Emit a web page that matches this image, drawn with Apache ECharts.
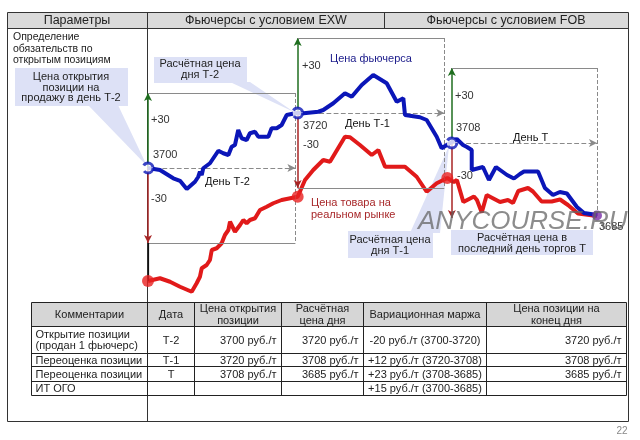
<!DOCTYPE html>
<html><head><meta charset="utf-8">
<script src="https://cdn.jsdelivr.net/npm/echarts/dist/echarts.min.js"></script>
<style>html,body{margin:0;padding:0;background:#fff}#c{width:640px;height:440px}</style>
</head><body><div id="c"></div>
<script>
// ---- data (x = trading days from opening, y = price, руб./т) ----
const futuresT2 = [[0,3700],[0.08,3699.2],[0.169,3695.9],[0.214,3694.9],[0.259,3691.6],[0.314,3694.5],[0.336,3696.5],[0.347,3698.5],[0.359,3697.2],[0.369,3699.9],[0.414,3701.9],[0.47,3706.9],[0.503,3705.9],[0.537,3705.2],[0.559,3708.5],[0.581,3709.2],[0.603,3715.2],[0.626,3711.9],[0.637,3712.5],[0.659,3711.2],[0.681,3713.9],[0.715,3714.5],[0.737,3712.5],[0.804,3712.5],[0.826,3715.9],[0.86,3715.9],[0.893,3717.2],[0.927,3721.2],[0.982,3721.9]];
const futuresT1 = [[1,3722],[1.04,3721.9],[1.138,3722.5],[1.171,3723.2],[1.238,3725.9],[1.316,3729.9],[1.361,3728.5],[1.428,3733.2],[1.505,3737.2],[1.595,3733.9],[1.662,3726.5],[1.706,3727.9],[1.717,3721.2],[1.817,3720.3],[1.862,3719.2],[1.929,3712.5],[1.962,3707.9],[1.996,3709.2]];
const futuresT = [[2.03,3710.4],[2.063,3711.6],[2.105,3709.2],[2.131,3708.4],[2.163,3707.2],[2.163,3699.2],[2.238,3700.4],[2.278,3695.2],[2.325,3700.4],[2.399,3697.2],[2.445,3695.8],[2.485,3697.6],[2.512,3698.6],[2.606,3698.6],[2.652,3692],[2.706,3689.2],[2.752,3690.4],[2.799,3689.8],[2.866,3684.4],[2.913,3682],[3,3681.2]];
const spotT2 = [[0,3654.8],[0.08,3655.9],[0.147,3654.5],[0.214,3652.5],[0.292,3650.5],[0.325,3653.9],[0.347,3656.5],[0.359,3659.9],[0.392,3661.2],[0.414,3663.2],[0.426,3667.2],[0.459,3667.9],[0.492,3669.9],[0.514,3673.2],[0.537,3675.2],[0.548,3678.5],[0.581,3674.5],[0.615,3677.2],[0.637,3679.2],[0.659,3677.9],[0.681,3679.2],[0.715,3679.9],[0.748,3683.2],[0.793,3684.5],[0.837,3685.9],[0.893,3687.2],[1,3688.5]];
const spotT1 = [[1.049,3695.2],[1.104,3699.2],[1.171,3703.2],[1.216,3702.5],[1.316,3712.5],[1.35,3712.3],[1.416,3709.2],[1.495,3705.2],[1.539,3707.2],[1.584,3700.5],[1.717,3700.5],[1.795,3696.5],[1.862,3690.5],[1.929,3693.9],[2.0,3696]];
const spotT = [[2.044,3694.4],[2.064,3695.2],[2.107,3686.4],[2.178,3688.6],[2.198,3687.2],[2.23,3682.2],[2.263,3689.2],[2.352,3686.4],[2.405,3687.2],[2.439,3686],[2.474,3690.8],[2.539,3692],[2.572,3690.6],[2.63,3686.6],[2.697,3686.6],[2.753,3687.4],[2.806,3685.2],[2.873,3681.8],[3,3680.8]];
const dayStart = [0, 1, 2.03];
const dayEnd = [0.985, 1.98, 3.0];
const settleLevel = [3700, 3722, 3710];
const band = 30;
const settleLabels = ['3700', '3720', '3708'];
const dayLabels = ['День Т-2', 'День Т-1', 'День Т'];
const spotDots = [[0,3654.8],[1,3688.5],[2,3696]];
const endPoint = [[3,3681]];
const endLabel = '3685';

const headerCells = ['Параметры', 'Фьючерсы с условием EXW', 'Фьючерсы с условием FOB'];
const tableHeader = ['Комментарии','Дата','Цена открытия\nпозиции','Расчётная\nцена дня','Вариационная маржа','Цена позиции на\nконец дня'];
const tableRows = [
  ['Открытие позиции\n(продан 1 фьючерс)','Т-2','3700 руб./т','3720 руб./т','-20 руб./т (3700-3720)','3720 руб./т'],
  ['Переоценка позиции','Т-1','3720 руб./т','3708 руб./т','+12 руб./т (3720-3708)','3708 руб./т'],
  ['Переоценка позиции','Т','3708 руб./т','3685 руб./т','+23 руб./т (3708-3685)','3685 руб./т'],
  ['ИТ ОГО','','','','+15 руб./т (3700-3685)','']
];

// ---- layout ----
const FONT = '"Liberation Sans", Arial, sans-serif';
const chart = echarts.init(document.getElementById('c'));
const G = [];
function txt(x, y, t, o) {
  o = o || {};
  G.push({type:'text', z: o.z || 10, style:{x, y, text:t, fill:o.fill||'#222', font:(o.fs||11)+'px '+FONT,
    fontStyle:o.italic?'italic':'normal', fontSize:o.fs||11, fontFamily:FONT, opacity:o.op==null?1:o.op,
    textAlign:o.align||'left', align:o.align||'left', textVerticalAlign:'middle', verticalAlign:'middle', lineHeight:o.lh||12}});
}
function rect(x, y, w, h, fill, stroke, z) {
  G.push({type:'rect', z: z||1, shape:{x, y, width:w, height:h}, style:{fill:fill||'none', stroke:stroke||null, lineWidth:1}});
}
function poly(pts, fill) { G.push({type:'polygon', z:1, shape:{points:pts}, style:{fill, stroke:null}}); }
function seg(x1,y1,x2,y2,c){ G.push({type:'line', z:2, shape:{x1,y1,x2,y2}, style:{stroke:c||'#333', lineWidth:1}}); }

// outer frame and header
rect(7.5, 12.5, 621, 16, '#dadada', null, 1);
seg(7.5,12.5,628.5,12.5); seg(7.5,28.5,628.5,28.5); seg(7.5,12.5,7.5,421.5); seg(628.5,12.5,628.5,421.5);
seg(7.5,421.5,628.5,421.5); seg(147.5,12.5,147.5,421.5); seg(384.5,12.5,384.5,28.5);
txt(77, 20.5, headerCells[0], {fs:12.5, align:'center'});
txt(266, 20.5, headerCells[1], {fs:12.5, align:'center'});
txt(506, 20.5, headerCells[2], {fs:12.5, align:'center'});
txt(13, 49, 'Определение\nобязательств по\nоткрытым позициям', {fs:10.5, lh:11.5});

// callouts
const CALL = '#dde1f6';
poly([[88,105],[118,105],[147,166]], CALL);
poly([[230,82],[250,82],[294,112]], CALL);
poly([[410,233],[440,233],[449,146]], CALL);
rect(15, 68, 113, 38, CALL, null, 1);
txt(71, 87.5, 'Цена открытия\nпозиции на\nпродажу в день Т-2', {align:'center', lh:10.8});
rect(154, 57, 93, 26, CALL, null, 1);
txt(200, 69.5, 'Расчётная цена\nдня Т-2', {align:'center', lh:11});
rect(348, 231, 85, 27, CALL, null, 1);
txt(390, 245, 'Расчётная цена\nдня Т-1', {align:'center', lh:11});
rect(451, 230, 142, 25, CALL, null, 1);
txt(522, 243, 'Расчётная цена в\nпоследний день торгов Т', {align:'center', lh:11});

// chart labels
const plusPos = [[151,120],[302,66],[455,96]];
const setPos = [[153,155],[303,126],[456,128]];
const minusPos = [[151,199],[303,145],[457,176]];
const dayPos = [[205,182],[345,124],[513,138]];
for (let i=0;i<3;i++){
  txt(plusPos[i][0], plusPos[i][1], '+'+band, {fill:'#333'});
  txt(setPos[i][0], setPos[i][1], settleLabels[i], {fill:'#333'});
  txt(minusPos[i][0], minusPos[i][1], '-'+band, {fill:'#333'});
  txt(dayPos[i][0], dayPos[i][1], dayLabels[i], {fill:'#111'});
}
txt(599, 227, endLabel, {fill:'#333'});
txt(330, 59, 'Цена фьючерса', {fill:'#1a1a8a'});
txt(311, 209, 'Цена товара на\nреальном рынке', {fill:'#a8282a', lh:12});

// table
const cx = [31.5,147.5,194.5,281.5,363.5,486.5,626.5];
const ry = [302.5,326.5,353.5,366.5,381.5,395.5];
const aligns = ['left','center','right','right','center','right'];
rect(cx[0], ry[0], cx[6]-cx[0], ry[1]-ry[0], '#d6d6d6', null, 1);
rect(cx[0], ry[1], cx[6]-cx[0], ry[5]-ry[1], '#fff', null, 1);
for (const y of ry) seg(cx[0], y, cx[6], y, '#222');
for (const x of cx) seg(x, ry[0], x, ry[5], '#222');
function cellText(r, c, t, header) {
  const y = (ry[r]+ry[r+1])/2 + 0.5;
  let x, al = header ? 'center' : aligns[c];
  if (al === 'center') x = (cx[c]+cx[c+1])/2;
  else if (al === 'left') x = cx[c]+4;
  else x = cx[c+1]-5;
  txt(x, y, t, {align:al, lh: header?12:11.5});
}
tableHeader.forEach((t,c)=>cellText(0,c,t,true));
tableRows.forEach((row,r)=>row.forEach((t,c)=>{ if(t) cellText(r+1,c,t,false); }));
txt(622, 431, '22', {fill:'#888', fs:10, align:'center'});
txt(418, 222, 'ANYCOURSE.RU', {fill:'#666', fs:26, italic:true, op:0.75, z:100});

// annotation lines (in data coordinates)
const GREEN = '#1f6e1f', DRED = '#a82424', GRAY = '#8a8a8a';
const ml = [];
function mline(a, b, color, type, arrow, w) {
  ml.push([{coord:a, symbol:'none', lineStyle:{color, type:type||'solid', width:w||1.2}},
           {coord:b, symbol:arrow?'arrow':'none', symbolSize:arrow?[6,8]:0}]);
}
for (let i=0;i<3;i++){
  const s = dayStart[i], e = dayEnd[i], c = settleLevel[i];
  mline([s,c],[s,c+band],GREEN,'solid',true,1.5);
  mline([s,c],[s,c-band],DRED,'solid',true,1.5);
  mline([s,c+band],[e,c+band],GRAY,'solid',false,1);
  mline([e,c+band],[e,c-band],GRAY,'dashed',false,1);
  if (i<2) mline([s,c-band],[e,c-band],GRAY,'solid',false,1);
  mline([s,c],[e,c],GRAY,'dashed',true,1.2);
}
mline([0,settleLevel[0]-band],[0,spotDots[0][1]],'#111','solid',false,1.2);

chart.setOption({
  animation:false,
  graphic: G,
  grid:{left:148, right:43, top:28, bottom:142},
  xAxis:{type:'value', min:0, max:3, show:false},
  yAxis:{type:'value', min:3648, max:3756, show:false},
  series:[
    {type:'line', name:'annot', data:[], silent:true, z:3,
     markLine:{silent:true, animation:false, label:{show:false}, symbol:['none','none'], data:ml}},
    {type:'line', name:'Цена товара', data:spotT2.concat(spotT1, spotT), showSymbol:false, symbol:'none', z:4,
     lineStyle:{color:'#e11a1a', width:4}},
    {type:'line', name:'Цена фьючерса', data:futuresT2.concat(futuresT1, futuresT), showSymbol:false, symbol:'none', z:5,
     lineStyle:{color:'#0b16b8', width:4}},
    {type:'scatter', data:spotDots, symbolSize:12, z:6, itemStyle:{color:'#e82020'}},
    {type:'scatter', data:dayStart.map((d,i)=>[d, settleLevel[i]]), symbolSize:10, z:6,
     itemStyle:{color:'#fff', borderColor:'#0b16b8', borderWidth:3, borderType:'dashed'}},
    {type:'scatter', data:endPoint, symbolSize:10, z:6, itemStyle:{color:'#7a2fa8'}}
  ]
});
</script></body></html>
